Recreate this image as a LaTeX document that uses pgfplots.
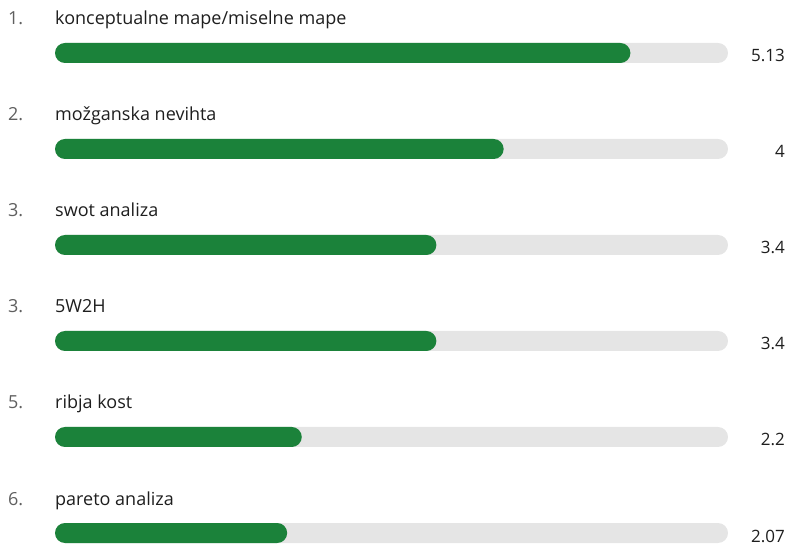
\documentclass[border=0pt]{standalone}
\usepackage{pgfplots}
\pgfplotsset{compat=1.18}
\usepackage{fontspec}
\setmainfont{Open Sans}
\definecolor{bargreen}{RGB}{27,130,58}
\definecolor{track}{RGB}{229,229,229}
\definecolor{ranktxt}{RGB}{95,95,95}
\definecolor{labtxt}{RGB}{30,30,30}
\newcommand{\labfont}{\fontsize{18}{21}\selectfont}
\newcommand{\valfont}{\fontsize{17}{20}\selectfont}
\begin{document}
\begin{tikzpicture}
\begin{axis}[
  scale only axis, width=788pt, height=545pt,
  xmin=-0.490342, xmax=6.534918,
  ymin=0, ymax=545, y dir=reverse,
  hide axis, clip=false,
]
% background tracks (max 6)
\addplot[xbar, bar width=20pt, bar shift=0pt, fill=track, draw=none, rounded corners=10pt]
  coordinates {(6,53) (6,149) (6,245) (6,341) (6,437) (6,533)};
% values
\addplot[xbar, bar width=20pt, bar shift=0pt, fill=bargreen, draw=none, rounded corners=10pt]
  coordinates {(5.13,53) (4,149) (3.4,245) (3.4,341) (2.2,437) (2.07,533)};
% rank numbers
\node[anchor=base west, text=ranktxt, inner sep=0pt] at (axis cs:-0.4190,25) {\labfont 1.};
\node[anchor=base west, text=ranktxt, inner sep=0pt] at (axis cs:-0.4190,121) {\labfont 2.};
\node[anchor=base west, text=ranktxt, inner sep=0pt] at (axis cs:-0.4190,217) {\labfont 3.};
\node[anchor=base west, text=ranktxt, inner sep=0pt] at (axis cs:-0.4190,313) {\labfont 3.};
\node[anchor=base west, text=ranktxt, inner sep=0pt] at (axis cs:-0.4190,409) {\labfont 5.};
\node[anchor=base west, text=ranktxt, inner sep=0pt] at (axis cs:-0.4190,505) {\labfont 6.};
% labels
\node[anchor=base west, text=labtxt, inner sep=0pt] at (axis cs:0,25) {\labfont konceptualne mape/miselne mape};
\node[anchor=base west, text=labtxt, inner sep=0pt] at (axis cs:0,121) {\labfont možganska nevihta};
\node[anchor=base west, text=labtxt, inner sep=0pt] at (axis cs:0,217) {\labfont swot analiza};
\node[anchor=base west, text=labtxt, inner sep=0pt] at (axis cs:0,313) {\labfont 5W2H};
\node[anchor=base west, text=labtxt, inner sep=0pt] at (axis cs:0,409) {\labfont ribja kost};
\node[anchor=base west, text=labtxt, inner sep=0pt] at (axis cs:0,505) {\labfont pareto analiza};
% value labels
\node[anchor=base east, text=labtxt, inner sep=0pt] at (axis cs:6.5082,62) {\valfont 5.13};
\node[anchor=base east, text=labtxt, inner sep=0pt] at (axis cs:6.5082,158) {\valfont 4};
\node[anchor=base east, text=labtxt, inner sep=0pt] at (axis cs:6.5082,254) {\valfont 3.4};
\node[anchor=base east, text=labtxt, inner sep=0pt] at (axis cs:6.5082,350) {\valfont 3.4};
\node[anchor=base east, text=labtxt, inner sep=0pt] at (axis cs:6.5082,446) {\valfont 2.2};
\node[anchor=base east, text=labtxt, inner sep=0pt] at (axis cs:6.5082,542) {\valfont 2.07};
\end{axis}
\pgfresetboundingbox
\path (current axis.south west) rectangle (current axis.north east);
\end{tikzpicture}
\end{document}
